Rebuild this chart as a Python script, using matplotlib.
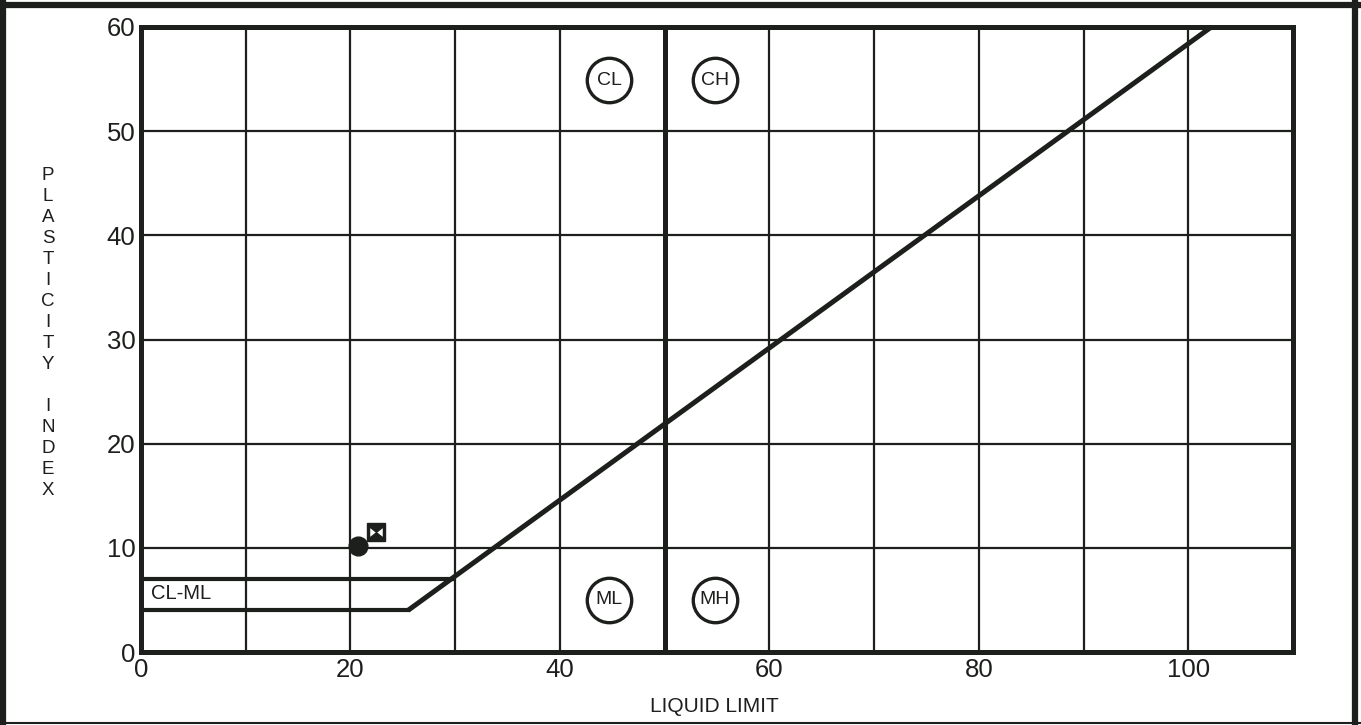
import matplotlib
matplotlib.use("Agg")
import matplotlib.pyplot as plt
from matplotlib.lines import Line2D
from matplotlib.path import Path

plt.rcParams['font.family'] = ['Liberation Sans', 'DejaVu Sans']

# ---- data ----
x_ticks = [0, 20, 40, 60, 80, 100]
y_ticks = [0, 10, 20, 30, 40, 50, 60]
grid_x = [10, 20, 30, 40, 60, 70, 80, 90, 100]
grid_y = [10, 20, 30, 40, 50]
a_line_ll = [25.5, 102.2]
a_line_pi = [4, 60]
clml_top_ll = [0, 29.7]
clml_top_pi = [7, 7]
clml_bot_ll = [0, 25.5]
clml_bot_pi = [4, 4]
ll_divide = 50
zone_names = ["CL", "CH", "ML", "MH"]
zone_ll = [44.7, 54.8, 44.7, 54.8]
zone_pi = [54.9, 54.9, 5.0, 5.0]
sample_circle = (20.7, 10.2)
sample_square = (22.4, 11.5)

fc = '#1c1f1c'
fig = plt.figure(figsize=(13.61, 7.25), dpi=100)
ax = fig.add_axes([141/1361, 73/725, 1152/1361, 625/725])
ax.set_xlim(0, 110)
ax.set_ylim(0, 60)

for gx in grid_x:
    ax.axvline(gx, color=fc, lw=1.6, zorder=1)
for gy in grid_y:
    ax.axhline(gy, color=fc, lw=1.6, zorder=1)
ax.axvline(ll_divide, color=fc, lw=3.6, zorder=2)

ax.plot(a_line_ll, a_line_pi, color=fc, lw=3.6, solid_capstyle='butt', zorder=3)
ax.plot(clml_top_ll, clml_top_pi, color=fc, lw=3.0, zorder=3)
ax.plot(clml_bot_ll, clml_bot_pi, color=fc, lw=3.0, zorder=3)
ax.text(1.0, 5.6, "CL-ML", fontsize=14.5, va='center', ha='left', color=fc, zorder=4)

for name, lx, py in zip(zone_names, zone_ll, zone_pi):
    ax.plot([lx], [py], marker='o', ms=32, mfc='white', mec=fc, mew=2.4, zorder=5)
    ax.text(lx, py, name, fontsize=14, ha='center', va='center', color=fc, zorder=6)

ax.plot([sample_circle[0]], [sample_circle[1]], marker='o', ms=13.5, color=fc, zorder=6)
ax.plot([sample_square[0]], [sample_square[1]], marker='s', ms=12.5, color=fc, zorder=6)
bowtie = Path([(-0.8, -0.55), (-0.8, 0.55), (-0.1, 0.0), (-0.8, -0.55),
               (0.8, -0.55), (0.8, 0.55), (0.1, 0.0), (0.8, -0.55)],
              [Path.MOVETO, Path.LINETO, Path.LINETO, Path.CLOSEPOLY,
               Path.MOVETO, Path.LINETO, Path.LINETO, Path.CLOSEPOLY])
ax.plot([sample_square[0]], [sample_square[1]], marker=bowtie, ms=9, color='white',
        mew=0, zorder=7)

ax.set_xticks(x_ticks)
ax.set_yticks(y_ticks)
ax.tick_params(length=0, labelsize=18.5, colors=fc, pad=4)
for s in ax.spines.values():
    s.set_linewidth(3.6)
    s.set_color(fc)

fig.text(714/1361, 1 - 706/725, "LIQUID LIMIT", fontsize=15, ha='center', va='center',
         color=fc)
fig.text(48/1361, 1 - 333/725, "P\nL\nA\nS\nT\nI\nC\nI\nT\nY\n\nI\nN\nD\nE\nX",
         fontsize=13.5, ha='center', va='center', linespacing=1.31, color=fc)

# outer frame
fig.add_artist(Line2D([3/1361, 3/1361], [0, 1 - 3/725], transform=fig.transFigure, color=fc, lw=4.5))
fig.add_artist(Line2D([0, 1358/1361], [1 - 5/725, 1 - 5/725], transform=fig.transFigure, color=fc, lw=4.5))
fig.add_artist(Line2D([1355/1361, 1355/1361], [0, 1 - 3/725], transform=fig.transFigure, color=fc, lw=4.5))
fig.add_artist(Line2D([0, 1], [2/725, 2/725], transform=fig.transFigure, color=fc, lw=1.5))

fig.savefig("out.png", dpi=100)
